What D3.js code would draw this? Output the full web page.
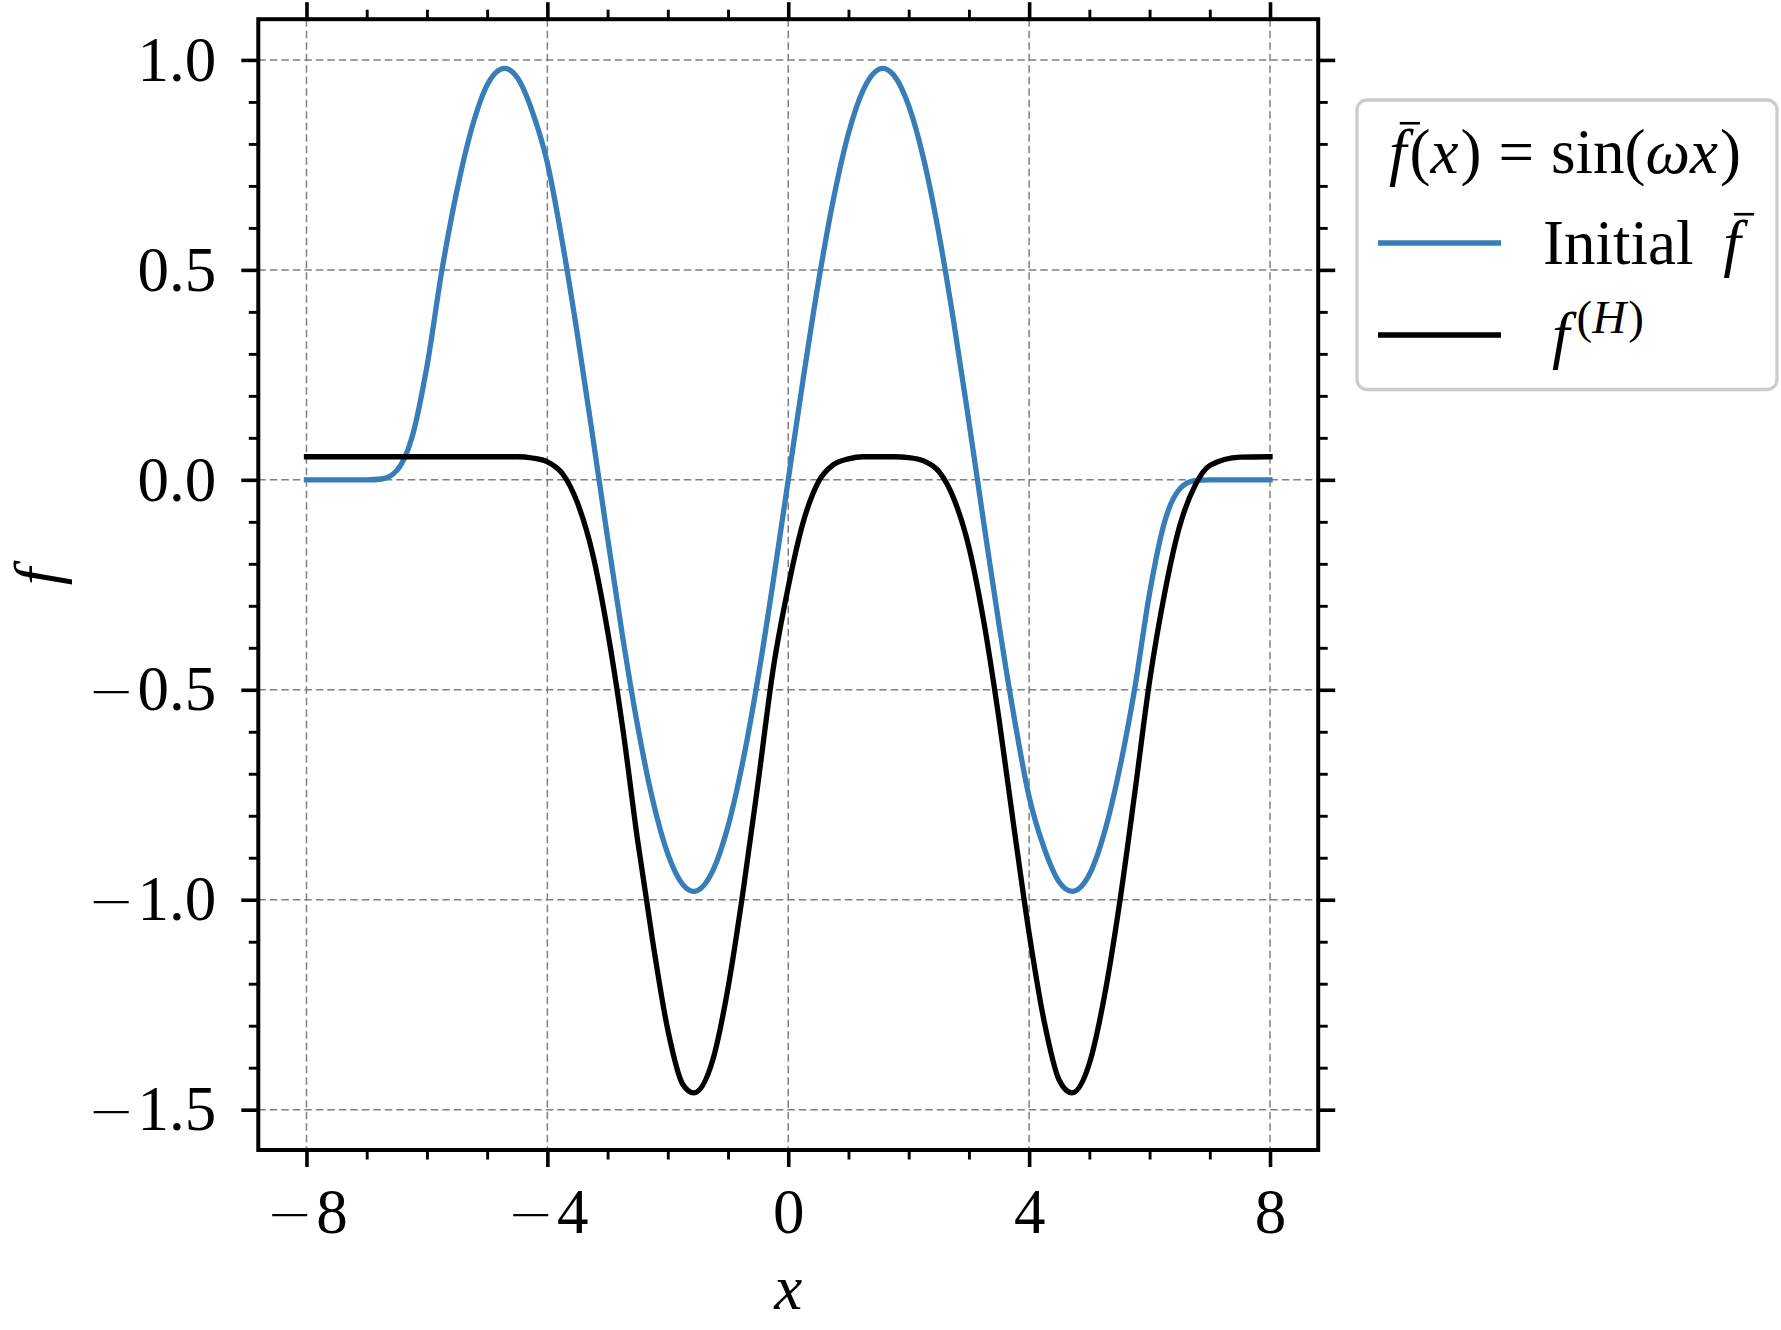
<!DOCTYPE html>
<html>
<head>
<meta charset="utf-8">
<script src="https://cdn.jsdelivr.net/npm/d3@7"></script>
<style>
  html, body { margin: 0; padding: 0; background: #fff; }
  svg text { font-family: 'Liberation Serif', 'Times New Roman', serif; }
</style>
</head>
<body>
<svg id="chart" width="1781" height="1330"></svg>
<script>
'use strict';

// sample positions and the two curves
const xs = [-8, -7.5, -7, -6.75, -6.5, -6.25, -6, -5.75, -5.5, -5.25, -5, -4.71, -4.5, -4.25, -4,
  -3.75, -3.5, -3.25, -3, -2.75, -2.5, -2.25, -2, -1.75, -1.57, -1.25, -1, -0.75, -0.5, -0.25, 0,
  0.25, 0.5, 0.75, 1, 1.25, 1.57, 1.75, 2, 2.25, 2.5, 2.75, 3, 3.25, 3.5, 3.75, 4,
  4.25, 4.5, 4.71, 5, 5.25, 5.5, 5.75, 6, 6.25, 6.5, 6.75, 7, 7.5, 8];

const fInitial = [0, 0, 0, 0.002, 0.022, 0.10, 0.27, 0.50, 0.69, 0.84, 0.94, 0.98, 0.958, 0.877, 0.755,
  0.565, 0.345, 0.106, -0.138, -0.374, -0.587, -0.763, -0.891, -0.964, -0.98, -0.93, -0.825, -0.668, -0.47, -0.242, 0,
  0.242, 0.47, 0.668, 0.825, 0.93, 0.98, 0.964, 0.891, 0.763, 0.587, 0.374, 0.138, -0.106, -0.345, -0.565, -0.755,
  -0.877, -0.958, -0.98, -0.94, -0.84, -0.69, -0.50, -0.27, -0.10, -0.022, -0.002, 0, 0, 0];

const fH = [0.055, 0.055, 0.055, 0.055, 0.055, 0.055, 0.055, 0.055, 0.055, 0.055, 0.055, 0.055, 0.055, 0.052, 0.043,
  0.015, -0.055, -0.175, -0.36, -0.59, -0.86, -1.10, -1.31, -1.44, -1.46, -1.38, -1.21, -0.98, -0.72, -0.45, -0.255,
  -0.10, -0.005, 0.036, 0.05, 0.055, 0.055, 0.055, 0.053, 0.045, 0.02, -0.045, -0.16, -0.34, -0.57, -0.83, -1.08,
  -1.29, -1.43, -1.46, -1.39, -1.23, -1.01, -0.75, -0.48, -0.27, -0.11, -0.015, 0.034, 0.054, 0.055];

const xTicks = [-8, -4, 0, 4, 8];
const xTickLabels = ['\u22128', '\u22124', '0', '4', '8'];
const yTicks = [-1.5, -1, -0.5, 0, 0.5, 1];
const yTickLabels = ['\u22121.5', '\u22121.0', '\u22120.5', '0.0', '0.5', '1.0'];

const W = 1781, H = 1330;
const FONT = "'Liberation Serif', 'Times New Roman', serif";
const FS = 63;
const BLUE = '#377eb8';
const LW = 5.3;
const box = { left: 258.3, right: 1318.2, top: 19.2, bottom: 1150 };
const majorLen = 17, minorLen = 9.5;

const $svg = d3.select('#chart');
$svg.append('rect').attr('width', W).attr('height', H).attr('fill', '#fff');

const x = d3.scaleLinear().domain([-8.8, 8.8]).range([box.left, box.right]);
const y = d3.scaleLinear().domain([-1.596, 1.097]).range([box.bottom, box.top]);

const xMinor = x.ticks(16).filter((d) => d % 4 !== 0);
const yMinor = y.ticks(27).filter((d) => Math.round(d * 10) % 5 !== 0);

// grid
const $grid = $svg.append('g')
  .attr('stroke', '#808080')
  .attr('stroke-width', 1.5)
  .attr('stroke-dasharray', '7.5,4');
$grid.selectAll('.gx').data(xTicks).enter().append('line')
  .attr('x1', (d) => x(d)).attr('x2', (d) => x(d))
  .attr('y1', box.top).attr('y2', box.bottom);
$grid.selectAll('.gy').data(yTicks).enter().append('line')
  .attr('x1', box.left).attr('x2', box.right)
  .attr('y1', (d) => y(d)).attr('y2', (d) => y(d));

// curves
const line = d3.line()
  .x((d, i) => x(xs[i]))
  .y((d) => y(d))
  .curve(d3.curveMonotoneX);

const $plot = $svg.append('g');
$plot.append('path').datum(fInitial)
  .attr('d', line)
  .attr('fill', 'none')
  .attr('stroke', BLUE)
  .attr('stroke-width', LW)
  .attr('stroke-linecap', 'square')
  .attr('stroke-linejoin', 'round');
$plot.append('path').datum(fH)
  .attr('d', line)
  .attr('fill', 'none')
  .attr('stroke', '#000')
  .attr('stroke-width', LW)
  .attr('stroke-linecap', 'square')
  .attr('stroke-linejoin', 'round');

// axes: major + minor ticks on all four sides, pointing out
const addAxis = (axis, tx, ty, w) => {
  const $g = $svg.append('g').attr('transform', `translate(${tx},${ty})`).call(axis);
  $g.attr('font-family', FONT).attr('font-size', FS);
  $g.select('.domain').remove();
  $g.selectAll('.tick line').attr('stroke', '#000').attr('stroke-width', w);
  return $g;
};

// wider, thin minus sign, closer to the TeX one
const splitMinus = ($g) => {
  $g.selectAll('.tick text').each(function () {
    const $t = d3.select(this);
    const s = $t.text();
    if (s[0] !== '\u2212') return;
    $t.text(null);
    $t.append('tspan')
      .attr('font-family', "'DejaVu Sans', sans-serif")
      .attr('font-weight', 200)
      .attr('font-size', 56)
      .text('\u2212');
    $t.append('tspan').attr('dx', 3).text(s.slice(1));
  });
};

const $xb = addAxis(d3.axisBottom(x).tickValues(xTicks).tickFormat((d, i) => xTickLabels[i])
  .tickSizeInner(majorLen).tickSizeOuter(0).tickPadding(21), 0, box.bottom, 3.6);
splitMinus($xb);
addAxis(d3.axisBottom(x).tickValues(xMinor).tickFormat('')
  .tickSizeInner(minorLen).tickSizeOuter(0), 0, box.bottom, 2.9);
addAxis(d3.axisTop(x).tickValues(xTicks).tickFormat('')
  .tickSizeInner(majorLen).tickSizeOuter(0), 0, box.top, 3.6);
addAxis(d3.axisTop(x).tickValues(xMinor).tickFormat('')
  .tickSizeInner(minorLen).tickSizeOuter(0), 0, box.top, 2.9);
const $yl = addAxis(d3.axisLeft(y).tickValues(yTicks).tickFormat((d, i) => yTickLabels[i])
  .tickSizeInner(majorLen).tickSizeOuter(0).tickPadding(25), box.left, 0, 3.6);
splitMinus($yl);
addAxis(d3.axisLeft(y).tickValues(yMinor).tickFormat('')
  .tickSizeInner(minorLen).tickSizeOuter(0), box.left, 0, 2.9);
addAxis(d3.axisRight(y).tickValues(yTicks).tickFormat('')
  .tickSizeInner(majorLen).tickSizeOuter(0), box.right, 0, 3.6);
addAxis(d3.axisRight(y).tickValues(yMinor).tickFormat('')
  .tickSizeInner(minorLen).tickSizeOuter(0), box.right, 0, 2.9);

// spines
$svg.append('rect')
  .attr('x', box.left).attr('y', box.top)
  .attr('width', box.right - box.left).attr('height', box.bottom - box.top)
  .attr('fill', 'none')
  .attr('stroke', '#000')
  .attr('stroke-width', 4);

// axis labels
$svg.append('text')
  .attr('x', (box.left + box.right) / 2).attr('y', 1309)
  .attr('text-anchor', 'middle')
  .attr('font-size', FS).attr('font-style', 'italic')
  .text('x');
$svg.append('text')
  .attr('transform', `translate(58,${(box.top + box.bottom) / 2 - 8}) rotate(-90)`)
  .attr('text-anchor', 'middle')
  .attr('font-size', FS).attr('font-style', 'italic')
  .text('f');

// legend
const $leg = $svg.append('g');
$leg.append('rect')
  .attr('x', 1357).attr('y', 100)
  .attr('width', 420).attr('height', 289.5)
  .attr('rx', 10)
  .attr('fill', '#fff')
  .attr('stroke', '#cccccc')
  .attr('stroke-width', 3.3);

const addBar = ($g, $text, idx) => {
  const p = $text.node().getStartPositionOfChar(idx);
  $g.append('line')
    .attr('x1', p.x + 0.17 * FS).attr('x2', p.x + 0.49 * FS)
    .attr('y1', p.y - 0.79 * FS).attr('y2', p.y - 0.79 * FS)
    .attr('stroke', '#000')
    .attr('stroke-width', 2.6);
};

// title: f̄(x) = sin(ωx)
const $titleG = $leg.append('g');
const $title = $titleG.append('text').attr('x', 0).attr('y', 173).attr('font-size', FS);
$title.append('tspan').attr('font-style', 'italic').text('f');
$title.append('tspan').attr('dx', 3).text('(');
$title.append('tspan').attr('font-style', 'italic').text('x');
$title.append('tspan').attr('dx', 2).text(')');
$title.append('tspan').attr('dx', 17).text('=');
$title.append('tspan').attr('dx', 17).text('sin(');
$title.append('tspan').attr('font-style', 'italic').text('\u03c9x');
$title.append('tspan').attr('dx', 2).text(')');
addBar($titleG, $title, 0);
const tb = $title.node().getBBox();
$titleG.attr('transform', `translate(${1565 - tb.x - tb.width / 2},0)`);

const entries = [
  { color: BLUE, y: 243 },
  { color: '#000', y: 335 }
];
$leg.selectAll('.entry').data(entries).enter().append('line')
  .attr('x1', 1378).attr('x2', 1501)
  .attr('y1', (d) => d.y).attr('y2', (d) => d.y)
  .attr('stroke', (d) => d.color)
  .attr('stroke-width', LW);

const $t1 = $leg.append('text').attr('x', 1543).attr('y', 264).attr('font-size', FS);
$t1.append('tspan').text('Initial ');
$t1.append('tspan').attr('font-style', 'italic').attr('dx', 14).text('f');
addBar($leg, $t1, 8);

const $t2 = $leg.append('text').attr('x', 1552).attr('y', 356).attr('font-size', FS);
$t2.append('tspan').attr('font-style', 'italic').text('f');
$t2.append('tspan').attr('font-size', 47).attr('dx', 7).attr('dy', -23).text('(');
$t2.append('tspan').attr('font-size', 47).attr('font-style', 'italic').text('H');
$t2.append('tspan').attr('font-size', 47).attr('dx', 2).text(')');
</script>
</body>
</html>
